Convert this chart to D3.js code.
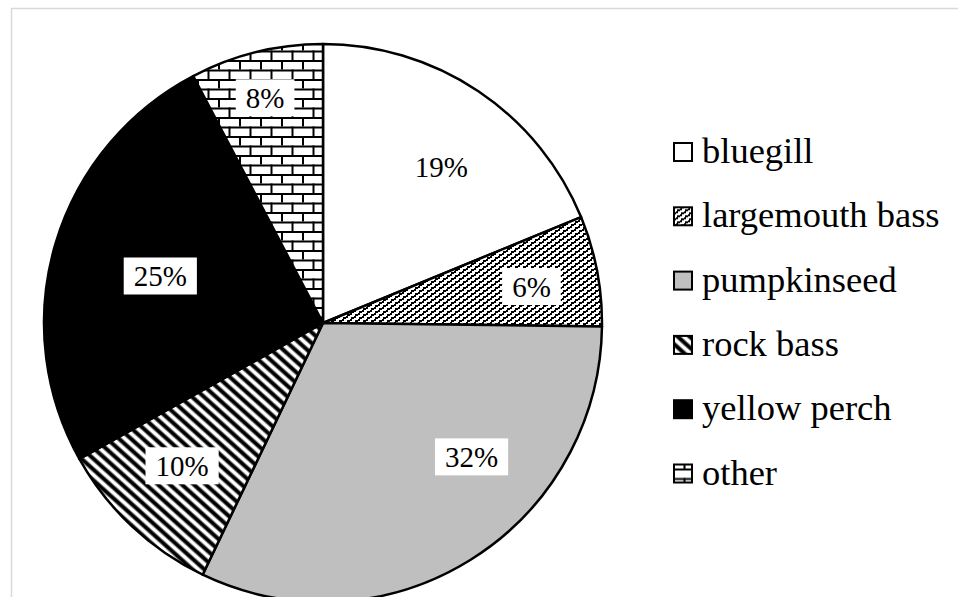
<!DOCTYPE html>
<html>
<head>
<meta charset="utf-8">
<script src="https://cdn.jsdelivr.net/npm/d3@7"></script>
<style>
  html, body { margin: 0; padding: 0; background: #fff; }
  svg { display: block; }
  svg text { font-family: "Liberation Serif", Tinos, "Times New Roman", "Noto Serif", "DejaVu Serif", FreeSerif, Times, serif; }
</style>
</head>
<body>
<svg id="chart" width="958" height="597"></svg>
<script>
// ---- data ----
const categories = ["bluegill", "largemouth bass", "pumpkinseed", "rock bass", "yellow perch", "other"];
const values = [18.8, 6.4, 31.9, 9.8, 25.4, 7.7];
// ---- layout / style (not data) ----
const fills = ["#ffffff", "url(#pat-lmb)", "#bfbfbf", "url(#pat-rock)", "#000000", "url(#pat-brick)"];
const labelNudge = [[7, 10], [12, 1], [43, -36], [-4, -3], [29, 10], [-10, -31]];

const svg = d3.select("#chart");
const W = 958, H = 597;

// defs: patterns
const defs = svg.append("defs");
// largemouth bass: small dashes in a zigzag
const p1 = defs.append("pattern").attr("id", "pat-lmb").attr("patternUnits", "userSpaceOnUse")
  .attr("width", 8).attr("height", 6);
p1.append("rect").attr("width", 8).attr("height", 6).attr("fill", "#fff");
p1.append("path").attr("fill", "#000")
  .attr("d", "M0,3h3v-1h2v2h-2v1h-3z M4,0h3v-1h2v2h-2v1h-3z M4,6h3v-1h2v2h-2v1h-3z M-4,0h3v-1h2v2h-2v1h-3z M-4,6h3v-1h2v2h-2v1h-3z");
// rock bass: diagonal stripes "\"
const p2 = defs.append("pattern").attr("id", "pat-rock").attr("patternUnits", "userSpaceOnUse")
  .attr("width", 8).attr("height", 8).attr("patternTransform", "rotate(-48)");
p2.append("rect").attr("width", 8).attr("height", 8).attr("fill", "#fff");
p2.append("rect").attr("x", 0).attr("width", 3).attr("height", 8).attr("fill", "#000");
p2.append("rect").attr("x", 3).attr("width", 1).attr("height", 8).attr("fill", "#777");
p2.append("rect").attr("x", 7).attr("width", 1).attr("height", 8).attr("fill", "#777");
// other: horizontal bricks
const p3 = defs.append("pattern").attr("id", "pat-brick").attr("patternUnits", "userSpaceOnUse")
  .attr("width", 21).attr("height", 19).attr("x", 0).attr("y", 3);
p3.append("rect").attr("width", 21).attr("height", 19).attr("fill", "#fff");
p3.append("rect").attr("x", 0).attr("y", 0).attr("width", 21).attr("height", 2).attr("fill", "#000");
p3.append("rect").attr("x", 0).attr("y", 9.5).attr("width", 21).attr("height", 2).attr("fill", "#000");
p3.append("rect").attr("x", 0).attr("y", 0).attr("width", 2).attr("height", 9.5).attr("fill", "#000");
p3.append("rect").attr("x", 10.5).attr("y", 9.5).attr("width", 2).attr("height", 9.5).attr("fill", "#000");

// chart border
svg.append("rect").attr("x", 11.5).attr("y", 8.5).attr("width", W).attr("height", H)
  .attr("fill", "none").attr("stroke", "#d9d9d9").attr("stroke-width", 1.5);

const cx = 323, cy = 323, R = 279;
const total = d3.sum(values);
const data = categories.map((c, i) => ({ name: c, value: values[i], i }));

const pie = d3.pie().sort(null).value(d => d.value).startAngle(0).endAngle(2 * Math.PI);
const arcs = pie(data);
const arc = d3.arc().innerRadius(0).outerRadius(R);
const labelArc = d3.arc().innerRadius(200).outerRadius(200);

const g = svg.append("g").attr("transform", `translate(${cx},${cy})`);
g.selectAll("path.slice").data(arcs).join("path")
  .attr("class", "slice")
  .attr("d", arc)
  .attr("fill", d => fills[d.data.i])
  .attr("stroke", "#000")
  .attr("stroke-width", 2.5)
  .attr("stroke-linejoin", "round");

const fmt = d3.format(".0%");
const lg = g.selectAll("g.lbl").data(arcs).join("g").attr("class", "lbl")
  .attr("transform", d => {
    const [x, y] = labelArc.centroid(d);
    const n = labelNudge[d.data.i];
    return `translate(${x + n[0]},${y + n[1]})`;
  });
lg.append("text")
  .attr("text-anchor", "middle")
  .attr("dy", "0.35em")
  .attr("font-size", 29)
  .attr("fill", "#000")
  .text(d => fmt(d.data.value / total));
lg.each(function() {
  const t = d3.select(this).select("text");
  const bb = t.node().getBBox();
  d3.select(this).insert("rect", "text")
    .attr("x", bb.x - 10).attr("y", -18.5)
    .attr("width", bb.width + 20).attr("height", 37)
    .attr("fill", "#fff");
});

// legend
const legX = 673, legBase0 = 163, legStep = 64.3;
const leg = svg.append("g").selectAll("g").data(data).join("g")
  .attr("transform", (d, i) => `translate(${legX},${legBase0 + i * legStep})`);
leg.append("rect")
  .attr("x", 1).attr("y", -20).attr("width", 18).attr("height", 18)
  .attr("fill", d => fills[d.i]).attr("stroke", "#000").attr("stroke-width", 2);
leg.append("text")
  .attr("x", 29).attr("y", 0)
  .attr("font-size", 36.5)
  .attr("fill", "#000")
  .text(d => d.name);
</script>
</body>
</html>
